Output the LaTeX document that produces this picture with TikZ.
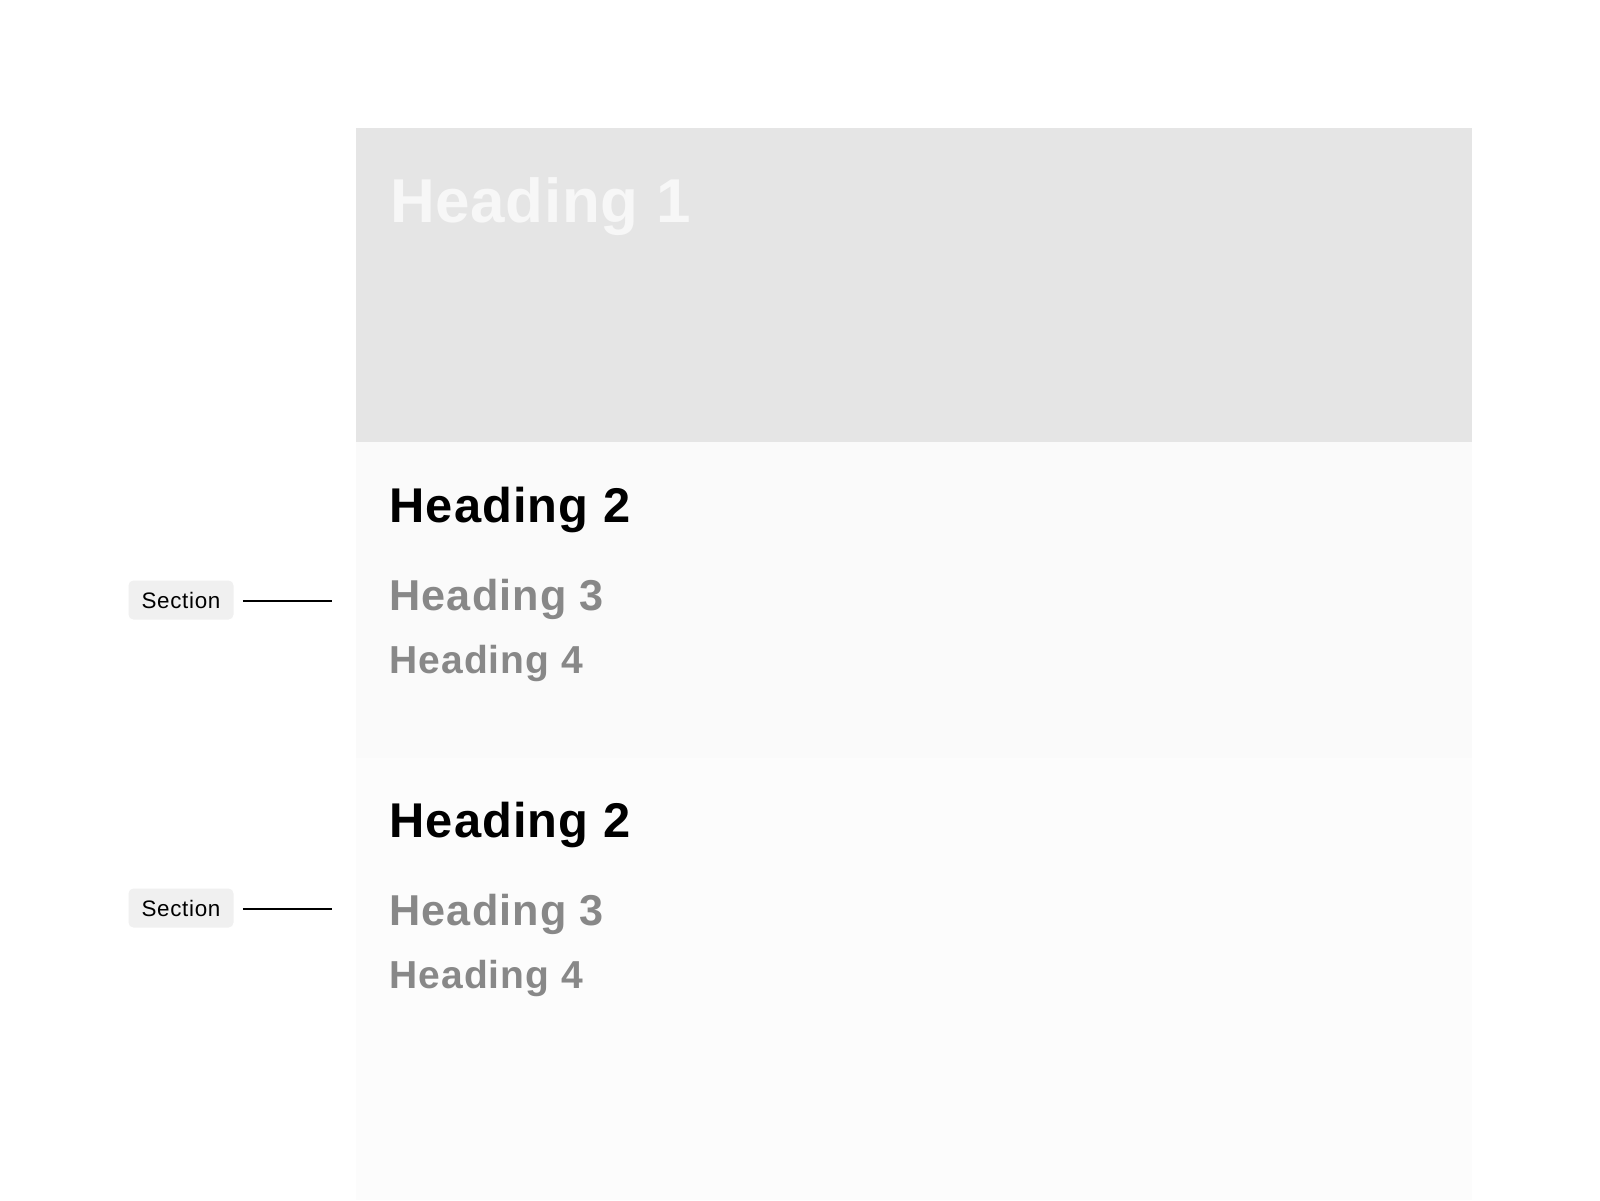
\documentclass[tikz,border=0pt]{standalone}
\usepackage{fontspec}
\setmainfont{Liberation Sans}
\definecolor{hero}{HTML}{E5E5E5}
\definecolor{secone}{HTML}{FAFAFA}
\definecolor{sectwo}{HTML}{FCFCFC}
\definecolor{heroText}{HTML}{F7F7F7}
\definecolor{subText}{HTML}{888888}
\definecolor{badgeFill}{HTML}{F0F0F0}
\tikzset{
  panel/.style={inner sep=0pt, outer sep=0pt},
  hone/.style={anchor=base west, inner sep=0pt, text=heroText, font=\fontsize{31}{36}\selectfont\bfseries\addfontfeature{LetterSpace=1.0}},
  htwo/.style={anchor=base west, inner sep=0pt, text=black, font=\fontsize{24.4}{28}\selectfont\bfseries\addfontfeature{LetterSpace=2.3}},
  hthree/.style={anchor=base west, inner sep=0pt, text=subText, font=\fontsize{21.6}{26}\selectfont\bfseries\addfontfeature{LetterSpace=2.7}},
  hfour/.style={anchor=base west, inner sep=0pt, text=subText, font=\fontsize{19.5}{24}\selectfont\bfseries\addfontfeature{LetterSpace=2.7}},
  badge/.style={fill=badgeFill, rounded corners=2.5pt, minimum width=52.5pt, minimum height=19.5pt, inner sep=0pt, font=\fontsize{11.2}{13}\selectfont\addfontfeature{LetterSpace=3}},
  pointer/.style={line width=0.9pt, black}
}
\begin{document}
\begin{tikzpicture}[x=0.5pt, y=-0.5pt]
\useasboundingbox[fill=white] (0,0) rectangle (1600,1200);
% panels
\fill[hero] (356,128) rectangle (1472,442);
\fill[secone] (356,442) rectangle (1472,758);
\fill[sectwo] (356,758) rectangle (1472,1200);
% headings
\node[hone] (h1) at (390,222) {Heading 1};
\node[htwo] (h2a) at (389,522) {Heading 2};
\node[hthree] (h3a) at (389,610) {Heading 3};
\node[hfour] (h4a) at (389,673) {Heading 4};
\node[htwo] (h2b) at (389,837) {Heading 2};
\node[hthree] (h3b) at (389,925) {Heading 3};
\node[hfour] (h4b) at (389,988) {Heading 4};
% section labels
\node[badge] (s1) at (181,600) {Section};
\node[badge] (s2) at (181,908) {Section};
\coordinate (e1) at (332,601);
\coordinate (e2) at (332,909);
\draw[pointer] (s1.east |- e1) ++(9,0) coordinate (b1) -- (e1);
\draw[pointer] (s2.east |- e2) ++(9,0) coordinate (b2) -- (e2);
\end{tikzpicture}
\end{document}
